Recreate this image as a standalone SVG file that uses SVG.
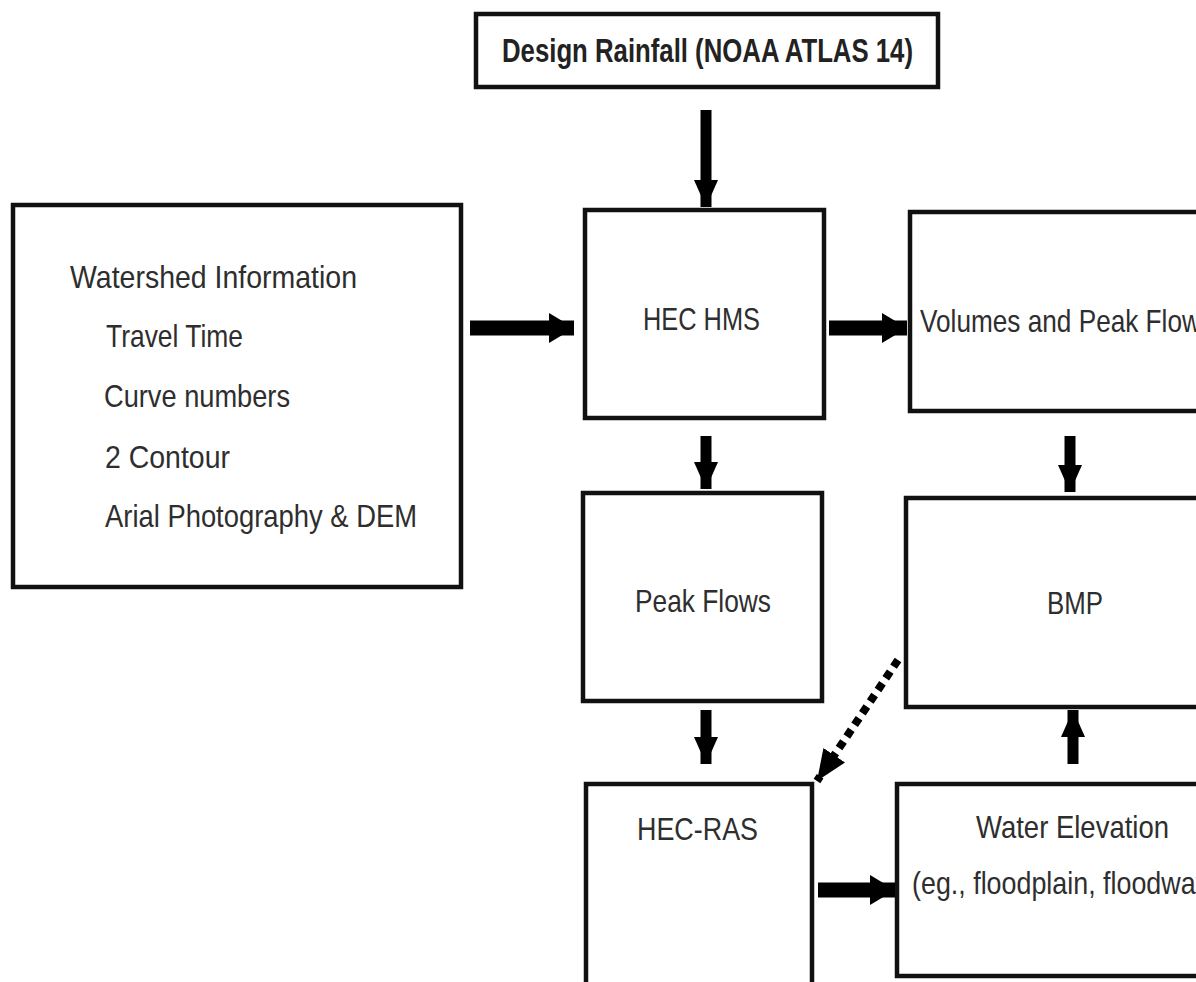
<svg xmlns="http://www.w3.org/2000/svg" width="1196" height="982" viewBox="0 0 1196 982">
<style>
.box{fill:#fff;stroke:#111;stroke-width:4.5}
.t{font-family:"Liberation Sans",Arial,sans-serif;font-size:32px;fill:#2e2e2e}
.tb{font-family:"Liberation Sans",Arial,sans-serif;font-size:33px;font-weight:bold;fill:#222}
.c{stroke:#000;stroke-width:11;fill:none}
.h{stroke-width:15}
.d{stroke:#000;stroke-width:8;fill:none;stroke-dasharray:8 6}
</style>
<defs>
<marker id="ah" markerUnits="userSpaceOnUse" markerWidth="28" markerHeight="24" refX="27" refY="12" orient="auto">
<path d="M0,0 L27,12 L0,24 Z" fill="#000"/>
</marker>
<marker id="ahh" markerUnits="userSpaceOnUse" markerWidth="26" markerHeight="30" refX="25" refY="15" orient="auto">
<path d="M0,0 L25,15 L0,30 Z" fill="#000"/>
</marker>
<marker id="ahd" markerUnits="userSpaceOnUse" markerWidth="32" markerHeight="26" refX="31" refY="13" orient="auto">
<path d="M0,0 L31,13 L0,26 Z" fill="#000"/>
</marker>
</defs>
<rect width="1196" height="982" fill="#fff"/>
<g id="rainfall">
<rect class="box" x="476" y="14" width="462" height="73"/>
<text class="tb" x="502" y="62" textLength="411" lengthAdjust="spacingAndGlyphs">Design Rainfall (NOAA ATLAS 14)</text>
</g>
<g id="watershed">
<rect class="box" x="13" y="205" width="448" height="382"/>
<text class="t" x="70" y="288" textLength="287" lengthAdjust="spacingAndGlyphs">Watershed Information</text>
<text class="t" x="106" y="347" textLength="137" lengthAdjust="spacingAndGlyphs">Travel Time</text>
<text class="t" x="104" y="407" textLength="186" lengthAdjust="spacingAndGlyphs">Curve numbers</text>
<text class="t" x="105" y="468" textLength="125" lengthAdjust="spacingAndGlyphs">2  Contour</text>
<text class="t" x="105" y="527" textLength="312" lengthAdjust="spacingAndGlyphs">Arial Photography &amp; DEM</text>
</g>
<g id="hechms">
<rect class="box" x="585" y="210" width="239" height="208"/>
<text class="t" x="643" y="330" textLength="117" lengthAdjust="spacingAndGlyphs">HEC HMS</text>
</g>
<g id="volumes">
<rect class="box" x="910" y="212" width="300" height="199"/>
<text class="t" x="920" y="332" textLength="294" lengthAdjust="spacingAndGlyphs">Volumes and Peak Flows</text>
</g>
<g id="peakflows">
<rect class="box" x="583" y="493" width="239" height="208"/>
<text class="t" x="635" y="612" textLength="136" lengthAdjust="spacingAndGlyphs">Peak Flows</text>
</g>
<g id="bmp">
<rect class="box" x="906" y="498" width="305" height="209"/>
<text class="t" x="1047" y="614" textLength="56" lengthAdjust="spacingAndGlyphs">BMP</text>
</g>
<g id="hecras">
<rect class="box" x="586" y="784" width="226" height="210"/>
<text class="t" x="637" y="840" textLength="121" lengthAdjust="spacingAndGlyphs">HEC-RAS</text>
</g>
<g id="waterelev">
<rect class="box" x="897" y="784" width="312" height="192"/>
<text class="t" x="976" y="838" textLength="193" lengthAdjust="spacingAndGlyphs">Water Elevation</text>
<text class="t" x="912" y="894" textLength="306" lengthAdjust="spacingAndGlyphs">(eg., floodplain, floodway)</text>
</g>
<g id="connectors">
<line class="c" x1="706" y1="110" x2="706" y2="207" marker-end="url(#ah)"/>
<line class="c h" x1="470" y1="328" x2="574" y2="328" marker-end="url(#ahh)"/>
<line class="c h" x1="829" y1="328" x2="907" y2="328" marker-end="url(#ahh)"/>
<line class="c" x1="706" y1="436" x2="706" y2="489" marker-end="url(#ah)"/>
<line class="c" x1="1070" y1="436" x2="1070" y2="492" marker-end="url(#ah)"/>
<line class="c" x1="706" y1="710" x2="706" y2="764" marker-end="url(#ah)"/>
<line class="c h" x1="818" y1="890" x2="895" y2="890" marker-end="url(#ahh)"/>
<line class="c" x1="1073" y1="764" x2="1073" y2="710" marker-end="url(#ah)"/>
<line class="d" x1="898" y1="660" x2="817" y2="781" marker-end="url(#ahd)"/>
</g>
</svg>
